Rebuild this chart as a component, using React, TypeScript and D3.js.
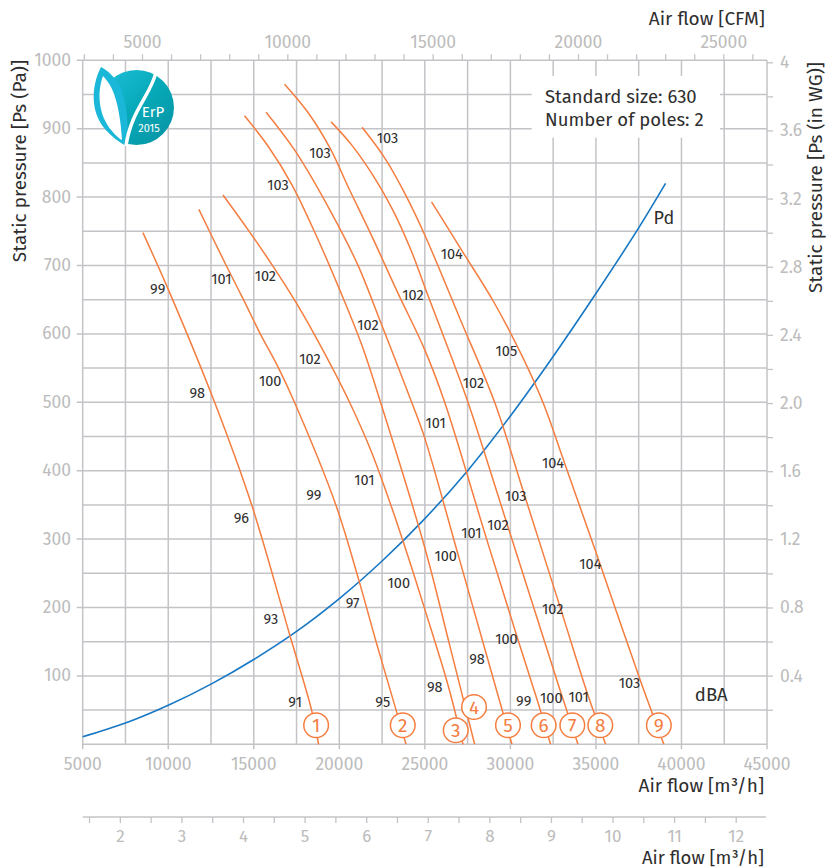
import React from 'react';
import * as d3 from 'd3';

const W = 826;
const H = 867;

// Axis tick values
const pressureLabels = [100, 200, 300, 400, 500, 600, 700, 800, 900, 1000];
const flowLabels = [5000, 10000, 15000, 20000, 25000, 30000, 35000, 40000, 45000];
const cfmLabels = [5000, 10000, 15000, 20000, 25000];
const cfmTicks = [3000, 4000, 5000, 6000, 7000, 8000, 9000, 10000, 11000, 12000, 13000, 14000, 15000, 16000, 17000, 18000, 19000, 20000, 21000, 22000, 23000, 24000, 25000, 26000];
const inwgTicks = [0.2, 0.4, 0.6, 0.8, 1.0, 1.2, 1.4, 1.6, 1.8, 2.0, 2.2, 2.4, 2.6, 2.8, 3.0, 3.2, 3.4, 3.6, 3.8, 4.0];
const inwgLabels = ['0.4', '0.8', '1.2', '1.6', '2.0', '2.4', '2.8', '3.2', '3.6', '4'];
const m3sTicks = [1.5, 2, 2.5, 3, 3.5, 4, 4.5, 5, 5.5, 6, 6.5, 7, 7.5, 8, 8.5, 9, 9.5, 10, 10.5, 11, 11.5, 12];
const m3sLabels = [2, 3, 4, 5, 6, 7, 8, 9, 10, 11, 12];
const gridFlow = [5000, 7500, 10000, 12500, 15000, 17500, 20000, 22500, 25000, 27500, 30000, 32500, 35000, 37500, 40000, 42500, 45000];
const gridPressure = [0, 50, 100, 150, 200, 250, 300, 350, 400, 450, 500, 550, 600, 650, 700, 750, 800, 850, 900, 950, 1000];

// Fan curves [m3/h, Pa]
const curve1: [number, number][] = [[8520, 748], [10020, 664], [12710, 500], [14890, 349], [17090, 161], [18380, 50], [18790, 0]];
const curve2: [number, number][] = [[11790, 782], [13390, 700], [14400, 650], [15380, 600], [16450, 550], [17380, 500], [19810, 349], [21140, 240], [22150, 150], [23320, 50], [23900, 0]];
const curve3: [number, number][] = [[13200, 803], [14670, 752], [16070, 701], [17370, 650], [18570, 598], [19660, 547], [20600, 500], [21840, 430], [23010, 350], [24090, 269], [24990, 198], [26360, 86], [27230, 0]];
const curve4: [number, number][] = [[14460, 919], [15820, 875], [17230, 818], [18630, 745], [20030, 664], [21310, 584], [22410, 500], [24990, 288], [26450, 145], [27910, 0]];
const curve5: [number, number][] = [[15720, 924], [17460, 866], [19450, 781], [21080, 701], [22480, 613], [24230, 500], [24990, 448], [26980, 274], [28670, 125], [30090, 0]];
const curve6: [number, number][] = [[16800, 965], [18160, 924], [19450, 872], [20610, 810], [21900, 743], [23420, 660], [24990, 577], [26160, 500], [28500, 309], [30430, 154], [31590, 63], [32350, 0]];
const curve7: [number, number][] = [[19520, 910], [20730, 876], [21960, 832], [23130, 781], [24180, 723], [25110, 661], [26280, 584], [27520, 500], [29820, 321], [31950, 154], [33050, 68], [33950, 0]];
const curve8: [number, number][] = [[21330, 902], [22660, 857], [23880, 803], [24990, 745], [27040, 623], [29080, 500], [30840, 363], [32940, 198], [34570, 69], [35570, 0]];
const curve9: [number, number][] = [[25390, 793], [27210, 720], [29020, 647], [30660, 569], [31900, 500], [33170, 411], [35220, 265], [37670, 88], [38970, 0]];
const fanCurves = [curve1, curve2, curve3, curve4, curve5, curve6, curve7, curve8, curve9];

// Curve number markers [m3/h, Pa, id]
const markers: [number, number, string][] = [
  [18645, 27.8, '1'], [23709, 27.8, '2'], [26805, 20.5, '3'], [27874, 54.5, '4'], [29859, 27.8, '5'],
  [31945, 27.8, '6'], [33621, 27.8, '7'], [35256, 27.8, '8'], [38679, 27.8, '9'],
];

// dBA labels [m3/h, Pa, text]
const dbaLabels: [number, number, string][] = [
  [9381, 665, '99'], [11694, 513, '98'], [14276, 331, '96'], [15999, 183, '93'], [17418, 62, '91'],
  [13107, 680, '101'], [15958, 531, '100'], [18510, 364, '99'], [20777, 207, '97'], [22541, 62, '95'],
  [15677, 685, '102'], [18288, 563, '102'], [21460, 387, '101'], [23475, 236, '100'], [25578, 84, '98'],
  [16419, 818, '103'],
  [21676, 613, '102'], [26221, 275, '100'], [28049, 125, '98'],
  [18872, 865, '103'], [25636, 470, '101'], [27721, 309, '101'], [29766, 154, '100'], [30776, 63, '99'],
  [24305, 657, '102'], [29275, 321, '102'], [32394, 68, '100'],
  [22815, 887, '103'], [27838, 528, '102'], [30309, 363, '103'], [32470, 198, '102'], [33989, 69, '101'],
  [26571, 717, '104'], [29766, 575, '105'], [32488, 411, '104'], [34672, 264, '104'], [36968, 89, '103'],
];

// Dynamic pressure curve [m3/h, Pa]
const pdCurve: [number, number][] = [
  [5000, 11], [7500, 31], [10000, 57], [12500, 88], [15000, 124], [17500, 165], [20000, 213], [22500, 268],
  [25000, 330], [27500, 400], [30000, 480], [32500, 567], [35000, 659], [37500, 755], [39070, 820],
];

const CFM_TO_M3H = 1.699;
const INWG_TO_PA = 249.089;
const M3S_TO_M3H = 3600;

const FONT = "'Fira Sans', 'Open Sans', 'Noto Sans', sans-serif";
const ORANGE = '#f47d3f';
const BLUE = '#1677c4';
const GRID = '#c4c4c8';
const TICK_TXT = '#bcbcbc';
const DARK = '#2e2e2e';

export default function App() {
  const x = d3.scaleLinear().domain([5000, 45000]).range([82.7, 767]);
  const y = d3.scaleLinear().domain([0, 1000]).range([744.3, 60.3]);
  const fanLine = d3
    .line<[number, number]>()
    .x((d) => x(d[0]))
    .y((d) => y(d[1]))
    .curve(d3.curveCatmullRom.alpha(0.5));
  const pdLine = d3
    .line<[number, number]>()
    .x((d) => x(d[0]))
    .y((d) => y(d[1]))
    .curve(d3.curveCatmullRom.alpha(0.5));

  const x0 = x(5000);
  const x1 = x(45000);
  const yTop = y(1000);
  const yBot = y(0);
  const axis2Y = 817;

  return (
    <svg
      width={W}
      height={H}
      viewBox={`0 0 ${W} ${H}`}
      style={{ position: 'absolute', left: 0, top: 0, display: 'block', background: '#fff' }}
      fontFamily={FONT}
    >
      <defs>
        <linearGradient id="erpGrad" x1="0" y1="0" x2="1" y2="1">
          <stop offset="0" stopColor="#20c0dc" />
          <stop offset="0.5" stopColor="#06a9b8" />
          <stop offset="1" stopColor="#0891a2" />
        </linearGradient>
      </defs>

      {/* grid */}
      <g stroke={GRID} strokeWidth={1.5}>
        {gridFlow.map((q) => (
          <line key={'v' + q} x1={x(q)} x2={x(q)} y1={yTop} y2={yBot + (flowLabels.includes(q) ? 5 : 0)} />
        ))}
        {gridPressure.map((p) => (
          <line key={'h' + p} x1={x0 - (p % 100 === 0 && p > 0 ? 6 : 0)} x2={x1} y1={y(p)} y2={y(p)} />
        ))}
      </g>

      {/* top CFM axis */}
      <g stroke={GRID} strokeWidth={1.3}>
        {cfmTicks.map((c) => (
          <line key={'ct' + c} x1={x(c * CFM_TO_M3H)} x2={x(c * CFM_TO_M3H)} y1={yTop - 6} y2={yTop} />
        ))}
      </g>
      <g fill={TICK_TXT} fontSize={17.5} textAnchor="middle">
        {cfmLabels.map((c) => (
          <text key={'cl' + c} x={x(c * CFM_TO_M3H)} y={42} dominantBaseline="central">
            {c}
          </text>
        ))}
      </g>
      <text x={765} y={18} fill={DARK} fontSize={19} textAnchor="end" dominantBaseline="central">
        Air flow [CFM]
      </text>

      {/* left axis labels */}
      <g fill={TICK_TXT} fontSize={17.5} textAnchor="end">
        {pressureLabels.map((p) => (
          <text key={'pl' + p} x={71} y={y(p)} dominantBaseline="central">
            {p}
          </text>
        ))}
      </g>
      <text
        transform={`translate(19,60) rotate(-90)`}
        fill={DARK}
        fontSize={19}
        textAnchor="end"
        dominantBaseline="central"
      >
        Static pressure [Ps (Pa)]
      </text>

      {/* right axis */}
      <g stroke={GRID} strokeWidth={1.3}>
        {inwgTicks.map((w) => (
          <line key={'rt' + w} x1={x1} x2={x1 + 6} y1={y(w * INWG_TO_PA)} y2={y(w * INWG_TO_PA)} />
        ))}
      </g>
      <g fill={TICK_TXT} fontSize={17.5} textAnchor="start">
        {inwgLabels.map((w) => (
          <text key={'rl' + w} x={780} y={y(parseFloat(w) * INWG_TO_PA)} dominantBaseline="central">
            {w}
          </text>
        ))}
      </g>
      <text
        transform={`translate(815,62) rotate(-90)`}
        fill={DARK}
        fontSize={19}
        textAnchor="end"
        dominantBaseline="central"
      >
        Static pressure [Ps (in WG)]
      </text>

      {/* bottom axis labels */}
      <g fill={TICK_TXT} fontSize={17.5} textAnchor="middle">
        {flowLabels.map((q) => (
          <text key={'fl' + q} x={x(q)} y={764} dominantBaseline="central">
            {q}
          </text>
        ))}
      </g>
      <text x={764} y={785} fill={DARK} fontSize={19} textAnchor="end" dominantBaseline="central">
        Air flow [m³/h]
      </text>

      {/* second bottom axis (m3/s) */}
      <line x1={x0} x2={x(45000) - 1} y1={axis2Y} y2={axis2Y} stroke={GRID} strokeWidth={1.5} />
      <g stroke={GRID} strokeWidth={1.3}>
        {m3sTicks.map((s) => (
          <line key={'st' + s} x1={x(s * M3S_TO_M3H)} x2={x(s * M3S_TO_M3H)} y1={axis2Y} y2={axis2Y + 6} />
        ))}
      </g>
      <g fill={TICK_TXT} fontSize={17} textAnchor="middle">
        {m3sLabels.map((s) => (
          <text key={'sl' + s} x={x(s * M3S_TO_M3H)} y={836} dominantBaseline="central">
            {s}
          </text>
        ))}
      </g>
      <text x={764} y={857.5} fill={DARK} fontSize={18.5} textAnchor="end" dominantBaseline="central">
        Air flow [m³/h]
      </text>

      {/* legend box */}
      <rect x={531.7} y={76} width={188.3} height={61.7} fill="#fff" />
      <text x={545} y={96.7} fill={DARK} fontSize={18.5} dominantBaseline="central">
        Standard size: 630
      </text>
      <text x={545} y={120} fill={DARK} fontSize={18.5} dominantBaseline="central">
        Number of poles: 2
      </text>

      {/* ErP logo */}
      <g>
        <circle cx={136.5} cy={107.5} r={37.5} fill="url(#erpGrad)" />
        <path
          d="M101,67 C91,86 89,116 110,134 C116,140 122,144 127,146 C129,124 127,100 119,85 C114,76 108,71 101,67 Z"
          fill="#1ab7d8"
        />
        <path
          d="M103,76 C97,92 98,115 112,131 C116,136 120,139 122,140 C121,122 118,102 112,89 C109,83 106,79 103,76 Z"
          fill="#fff"
        />
        <path d="M156,72 C151,95 131,110 126,146" fill="none" stroke="#fff" strokeWidth={3.5} />
        <text x={153} y={111.5} fill="#fff" fontSize={15} textAnchor="middle" dominantBaseline="central">
          ErP
        </text>
        <text x={149} y={128.5} fill="#fff" fontSize={11} textAnchor="middle" dominantBaseline="central">
          2015
        </text>
      </g>

      {/* Pd curve */}
      <path d={pdLine(pdCurve) || ''} fill="none" stroke={BLUE} strokeWidth={1.6} />
      <text x={x(38970)} y={y(770)} fill={DARK} fontSize={18} textAnchor="middle" dominantBaseline="central">
        Pd
      </text>

      {/* fan curves */}
      {fanCurves.map((c, i) => (
        <path key={'fc' + i} d={fanLine(c) || ''} fill="none" stroke={ORANGE} strokeWidth={1.5} />
      ))}

      {/* dBA labels */}
      <g fill={DARK} fontSize={14.5} textAnchor="middle">
        {dbaLabels.map(([q, p, t], i) => (
          <text key={'db' + i} x={x(q)} y={y(p)} dominantBaseline="central">
            {t}
          </text>
        ))}
      </g>
      <text x={x(41740)} y={y(71.6)} fill={DARK} fontSize={18.5} textAnchor="middle" dominantBaseline="central">
        dBA
      </text>

      {/* curve markers */}
      {markers.map(([q, p, id]) => (
        <g key={'m' + id}>
          <circle cx={x(q)} cy={y(p)} r={12.3} fill="#fff" stroke={ORANGE} strokeWidth={1.5} />
          <text
            x={x(q)}
            y={y(p) + 0.5}
            fill={ORANGE}
            fontSize={19}
            textAnchor="middle"
            dominantBaseline="central"
          >
            {id}
          </text>
        </g>
      ))}
    </svg>
  );
}
